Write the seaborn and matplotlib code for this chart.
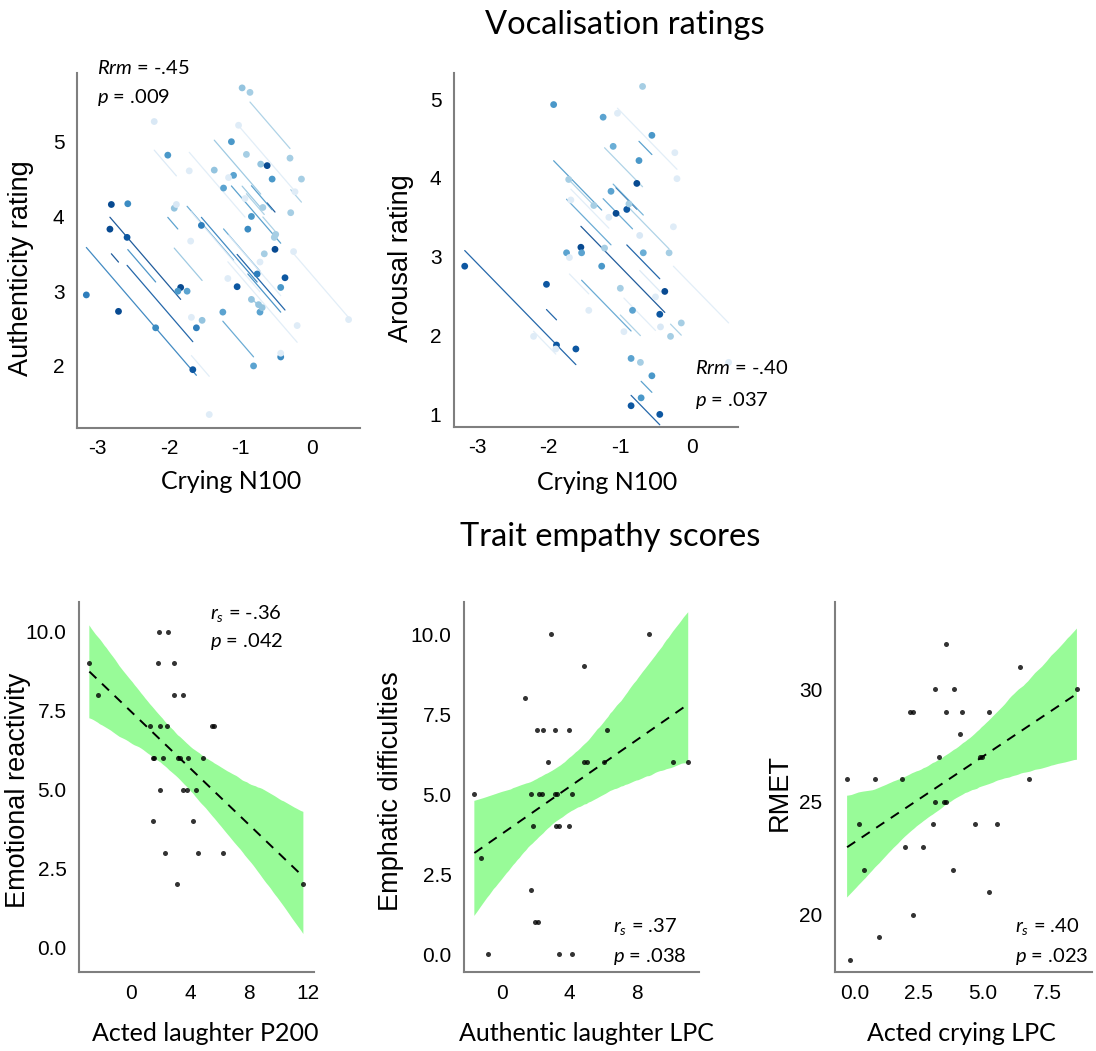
import numpy as np
import pandas as pd
import seaborn as sns
import matplotlib.pyplot as plt
from matplotlib.collections import PolyCollection

# ---- top row: repeated-measures data (subject id, N100, rating) ----
auth_subject = [1, 2, 3, 5, 4, 3, 5, 4, 7, 6, 8, 6, 2, 7, 9, 27, 28, 1, 10, 8, 29, 29, 11, 18, 26,
                12, 9, 30, 19, 31, 25, 13, 21, 27, 20, 14, 23, 26, 10, 11, 15, 22, 28, 21, 18, 25,
                23, 20, 22, 22, 15, 12, 19, 14, 30, 13, 16, 16, 31, 17, 32, 17, 32]
auth_n100 = [-3.16, -2.83, -2.81, -2.58, -2.59, -2.71, -2.19, -1.67, -2.02, -2.21, -1.93, -1.90,
             -1.84, -1.88, -1.75, -1.72, -1.70, -1.62, -1.55, -1.54, -1.69, -1.44, -1.37, -1.24,
             -1.25, -1.13, -1.10, -1.17, -1.05, -1.03, -0.98, -0.87, -0.92, -0.94, -0.85, -0.90,
             -0.85, -0.82, -0.77, -0.72, -0.63, -0.69, -0.73, -0.67, -0.73, -0.70, -0.75, -0.56,
             -0.53, -0.51, -0.52, -0.44, -0.38, -0.44, -0.44, -0.31, -0.15, -0.30, -0.24, -0.26,
             -0.21, 0.51, -1.18]
auth_rating = [2.95, 3.83, 4.16, 4.17, 3.72, 2.73, 2.51, 1.95, 4.82, 5.27, 4.11, 4.16, 3.05, 3.00,
               3.00, 4.61, 3.67, 2.51, 3.88, 2.61, 2.65, 1.35, 4.62, 4.38, 2.72, 5.00, 4.55, 4.52,
               3.06, 5.22, 5.72, 5.66, 4.83, 4.24, 4.00, 3.83, 2.89, 2.00, 3.23, 4.70, 4.68, 4.12,
               3.39, 3.50, 2.72, 2.78, 2.82, 4.50, 3.72, 3.76, 3.56, 3.05, 3.18, 2.12, 2.17, 4.78,
               4.50, 4.05, 4.33, 3.53, 2.54, 2.62, 3.17]
auth_shade = {1: .70, 2: .90, 3: .90, 4: .85, 5: .65, 6: .15, 7: .60, 8: .40, 9: .55, 10: .70,
              11: .40, 12: .60, 13: .35, 14: .65, 15: .90, 16: .35, 17: .12, 18: .55, 19: .85,
              20: .60, 21: .35, 22: .35, 23: .40, 25: .40, 26: .55, 27: .12, 28: .12, 29: .12,
              30: .12, 31: .12, 32: .12}

arou_subject = [1, 4, 2, 3, 3, 2, 1, 15, 21, 19, 22, 5, 16, 21, 19, 6, 4, 8, 18, 22, 15, 7, 23, 12,
                24, 17, 20, 16, 10, 6, 9, 7, 25, 12, 11, 8, 18, 9, 11, 24, 17, 25, 10, 5, 20, 13,
                14, 23, 23, 13, 14]
arou_n100 = [-3.17, -1.93, -2.21, -2.03, -1.89, -1.90, -1.62, -1.75, -1.71, -1.72, -1.69, -1.55,
             -1.54, -1.44, -1.37, -1.24, -1.26, -1.22, -1.10, -1.16, -1.13, -1.06, -1.04, -1.00,
             -0.95, -0.91, -0.88, -0.85, -0.85, -0.83, -0.74, -0.77, -0.73, -0.72, -0.71, -0.69,
             -0.68, -0.56, -0.56, -0.51, -0.45, -0.44, -0.45, -0.38, -0.32, -0.30, -0.26, -0.24,
             -0.21, -0.15, 0.51]
arou_rating = [2.88, 4.93, 1.99, 2.65, 1.88, 1.83, 1.83, 3.05, 2.99, 3.98, 3.72, 3.12, 3.05, 2.32,
               3.65, 4.77, 2.88, 3.11, 4.40, 3.50, 3.83, 3.55, 4.82, 2.60, 2.05, 3.60, 3.67, 1.71,
               1.11, 2.32, 4.22, 3.93, 3.27, 1.66, 1.21, 5.16, 3.05, 4.54, 1.49, 2.49, 2.27, 2.11,
               1.00, 2.56, 3.05, 1.99, 3.38, 4.32, 3.99, 2.16, 1.66]
arou_shade = {1: .85, 2: .12, 3: .85, 4: .60, 5: .90, 6: .55, 7: .90, 8: .35, 9: .60, 10: .85,
              11: .60, 12: .35, 13: .35, 14: .12, 15: .55, 16: .55, 17: .85, 18: .50, 19: .35,
              20: .35, 21: .12, 22: .12, 23: .12, 24: .12, 25: .15}

# ---- bottom row: trait empathy ----
p200_acted_laugh = [-2.83, -2.26, 1.92, 2.49, 1.83, 2.89, 2.89, 3.53, 1.31, 1.97, 2.42, 5.49, 5.60,
                    1.49, 1.58, 2.19, 3.21, 3.34, 3.84, 4.86, 1.97, 3.55, 3.78, 4.39, 1.47, 4.18,
                    2.28, 4.56, 6.22, 3.12, 11.68]
emo_reactivity = [9, 8, 10, 10, 9, 9, 8, 8, 7, 7, 7, 7, 7, 6, 6, 6, 6, 6, 6, 6, 5, 5, 5, 5, 4, 4,
                  3, 3, 3, 2, 2]

lpc_auth_laugh = [2.88, 8.72, 4.87, 1.38, 2.05, 2.43, 3.15, 3.95, 6.23, 2.74, 4.83, 5.01, 6.05,
                  10.1, 11.02, -1.64, 1.73, 2.17, 2.37, 3.14, 3.24, 4.14, 1.83, 3.18, 3.37, 3.98,
                  -1.22, 1.72, 1.95, 2.11, -0.86, 3.40, 4.14]
emph_difficulties = [10, 10, 9, 8, 7, 7, 7, 7, 7, 6, 6, 6, 6, 6, 6, 5, 5, 5, 5, 5, 5, 5, 4, 4, 4,
                     4, 3, 2, 1, 1, 0, 0, 0]

lpc_acted_cry = [3.55, 6.45, 3.12, 3.85, 8.66, 2.17, 2.25, 3.55, 4.19, 5.24, 4.11, 3.29, 4.89,
                 4.94, -0.30, 0.79, 1.85, 6.80, 3.12, 3.49, 3.56, 0.15, 3.05, 4.68, 5.56, 1.97,
                 2.66, 0.36, 3.83, 5.24, 2.28, 0.93, -0.19]
rmet = [32, 31, 30, 30, 30, 29, 29, 29, 29, 29, 28, 27, 27, 27, 26, 26, 26, 26, 25, 25, 25, 24, 24,
        24, 24, 23, 23, 22, 22, 21, 20, 19, 18]

sns.set_style("white")
plt.rcParams['font.family'] = ['Liberation Sans', 'DejaVu Sans']
plt.rcParams['mathtext.fontset'] = 'custom'
plt.rcParams['mathtext.rm'] = 'Lato'
plt.rcParams['mathtext.it'] = 'Lato:italic'
plt.rcParams['mathtext.bf'] = 'Lato:bold'
plt.rcParams['axes.unicode_minus'] = False
for key in ('text.color', 'axes.labelcolor', 'xtick.color', 'ytick.color'):
    plt.rcParams[key] = 'black'

blues = sns.color_palette("Blues", as_cmap=True)
SPINE = '#7f7f7f'
CAL = 'Lato'
TICK_FS = 15
XLAB_FS = 18
YLAB_FS = 19.5
NOTE_FS = 14.5


def rmcorr_lines(subject, x, y):
    df = pd.DataFrame({'subject': subject, 'x': x, 'y': y})
    g = df.groupby('subject')
    xc = df['x'] - g['x'].transform('mean')
    yc = df['y'] - g['y'].transform('mean')
    slope = (xc * yc).sum() / (xc ** 2).sum()
    rows = []
    for s, d in g:
        for xv in (d['x'].min(), d['x'].max()):
            rows.append((s, xv, d['y'].mean() + slope * (xv - d['x'].mean())))
    return df, pd.DataFrame(rows, columns=['subject', 'x', 'y'])


def style_axes(ax, xticks_on):
    sns.despine(ax=ax)
    for side in ('left', 'bottom'):
        ax.spines[side].set_color(SPINE)
        ax.spines[side].set_linewidth(1.5)
    ax.tick_params(axis='y', length=0, labelsize=TICK_FS, pad=9, colors='black')
    if xticks_on:
        ax.tick_params(axis='x', length=5, width=1.2, color=SPINE, labelcolor='black',
                       labelsize=TICK_FS, pad=3)
    else:
        ax.tick_params(axis='x', length=0, labelsize=TICK_FS, pad=9, colors='black')


def rm_panel(ax, subject, x, y, shade, ylabel, xlim, ylim, yticks):
    pts, fit = rmcorr_lines(subject, x, y)
    pal = {s: blues(v) for s, v in shade.items()}
    sns.lineplot(data=fit, x='x', y='y', hue='subject', units='subject', estimator=None,
                 palette=pal, lw=0.9, alpha=0.9, legend=False, ax=ax, zorder=1)
    sns.scatterplot(data=pts, x='x', y='y', hue='subject', palette=pal, s=24,
                    edgecolor='none', legend=False, ax=ax, zorder=2)
    ax.set_xlim(xlim)
    ax.set_ylim(ylim)
    ax.set_xticks([-3, -2, -1, 0])
    ax.set_yticks(yticks)
    style_axes(ax, True)
    ax.set_xlabel('Crying N100', fontsize=XLAB_FS, family=CAL)
    ax.set_ylabel(ylabel, fontsize=YLAB_FS)


def reg_panel(ax, x, y, xlabel, ylabel, xlim, ylim, xticks, yticks, fmt):
    sns.regplot(x=np.array(x), y=np.array(y), ax=ax, ci=95, n_boot=2000, seed=3,
                color='#98fb98',
                scatter_kws=dict(color='black', s=13, zorder=3, linewidths=0),
                line_kws=dict(color='black', ls=(0, (5, 4)), lw=1.4, zorder=2))
    for c in ax.collections:
        if isinstance(c, PolyCollection):
            c.set_facecolor('#98fb98')
            c.set_alpha(1)
            c.set_edgecolor('none')
            c.set_zorder(1)
    ax.set_xlim(xlim)
    ax.set_ylim(ylim)
    ax.set_xticks(xticks)
    ax.set_yticks(yticks)
    ax.set_yticklabels([fmt.format(v) for v in yticks])
    style_axes(ax, False)
    ax.set_xlabel(xlabel, fontsize=XLAB_FS, family=CAL)
    ax.set_ylabel(ylabel, fontsize=YLAB_FS)


fig = plt.figure(figsize=(10.96, 10.51), dpi=100)

ax1 = fig.add_axes([0.0703, 0.5928, 0.2582, 0.3378])
rm_panel(ax1, auth_subject, auth_n100, auth_rating, auth_shade, 'Authenticity rating',
         (-3.29, 0.67), (1.17, 5.92), [2, 3, 4, 5])
ax1.yaxis.set_label_coords(-0.152, 0.45)
ax1.xaxis.set_label_coords(0.544, -0.152)
ax1.xaxis.label.set_va('center')
ax1.text(0.071, 1.014, r'$\mathit{Rrm}$ = -.45', transform=ax1.transAxes, fontsize=NOTE_FS,
         family=CAL, va='center')
ax1.text(0.071, 0.932, r'$\mathit{p}$ = .009', transform=ax1.transAxes, fontsize=NOTE_FS,
         family=CAL, va='center')

ax2 = fig.add_axes([0.4142, 0.5937, 0.2591, 0.3368])
rm_panel(ax2, arou_subject, arou_n100, arou_rating, arou_shade, 'Arousal rating',
         (-3.32, 0.64), (0.84, 5.33), [1, 2, 3, 4, 5])
ax2.yaxis.set_label_coords(-0.142, 0.477)
ax2.xaxis.set_label_coords(0.54, -0.158)
ax2.xaxis.label.set_va('center')
ax2.text(0.849, 0.167, r'$\mathit{Rrm}$ = -.40', transform=ax2.transAxes, fontsize=NOTE_FS,
         family=CAL, va='center')
ax2.text(0.849, 0.076, r'$\mathit{p}$ = .037', transform=ax2.transAxes, fontsize=NOTE_FS,
         family=CAL, va='center')

ax3 = fig.add_axes([0.0721, 0.0752, 0.2144, 0.3520])
reg_panel(ax3, p200_acted_laugh, emo_reactivity, 'Acted laughter P200', 'Emotional reactivity',
          (-3.53, 12.4), (-0.79, 10.95), [0, 4, 8, 12], [0, 2.5, 5, 7.5, 10], '{:.1f}')
ax3.yaxis.set_label_coords(-0.205, 0.49)
ax3.xaxis.set_label_coords(0.536, -0.165)
ax3.xaxis.label.set_va('center')
ax3.text(0.557, 0.970, r'$\mathit{r}_{\mathit{s}}$ = -.36', transform=ax3.transAxes,
         fontsize=NOTE_FS, family=CAL, va='center')
ax3.text(0.557, 0.892, r'$\mathit{p}$ = .042', transform=ax3.transAxes, fontsize=NOTE_FS,
         family=CAL, va='center')

ax4 = fig.add_axes([0.4234, 0.0752, 0.2144, 0.3520])
reg_panel(ax4, lpc_auth_laugh, emph_difficulties, 'Authentic laughter LPC',
          'Emphatic difficulties', (-2.25, 11.66), (-0.56, 11.0), [0, 4, 8],
          [0, 2.5, 5, 7.5, 10], '{:.1f}')
ax4.yaxis.set_label_coords(-0.255, 0.49)
ax4.xaxis.set_label_coords(0.519, -0.165)
ax4.xaxis.label.set_va('center')
ax4.text(0.634, 0.122, r'$\mathit{r}_{\mathit{s}}$ = .37', transform=ax4.transAxes,
         fontsize=NOTE_FS, family=CAL, va='center')
ax4.text(0.634, 0.043, r'$\mathit{p}$ = .038', transform=ax4.transAxes, fontsize=NOTE_FS,
         family=CAL, va='center')

ax5 = fig.add_axes([0.7619, 0.0752, 0.2345, 0.3520])
reg_panel(ax5, lpc_acted_cry, rmet, 'Acted crying LPC', 'RMET',
          (-0.77, 9.25), (17.45, 33.88), [0, 2.5, 5, 7.5], [20, 25, 30], '{:.0f}')
ax5.set_xticklabels(['0.0', '2.5', '5.0', '7.5'])
ax5.yaxis.set_label_coords(-0.165, 0.485)
ax5.xaxis.set_label_coords(0.49, -0.165)
ax5.xaxis.label.set_va('center')
ax5.text(0.70, 0.122, r'$\mathit{r}_{\mathit{s}}$ = .40', transform=ax5.transAxes,
         fontsize=NOTE_FS, family=CAL, va='center')
ax5.text(0.70, 0.043, r'$\mathit{p}$ = .023', transform=ax5.transAxes, fontsize=NOTE_FS,
         family=CAL, va='center')

fig.text(0.570, 1 - 25 / 1051, 'Vocalisation ratings', ha='center', va='center',
         fontsize=23.5, family=CAL)
fig.text(0.557, 1 - 537 / 1051, 'Trait empathy scores', ha='center', va='center',
         fontsize=23.5, family=CAL)

fig.savefig('out.png', dpi=100)
